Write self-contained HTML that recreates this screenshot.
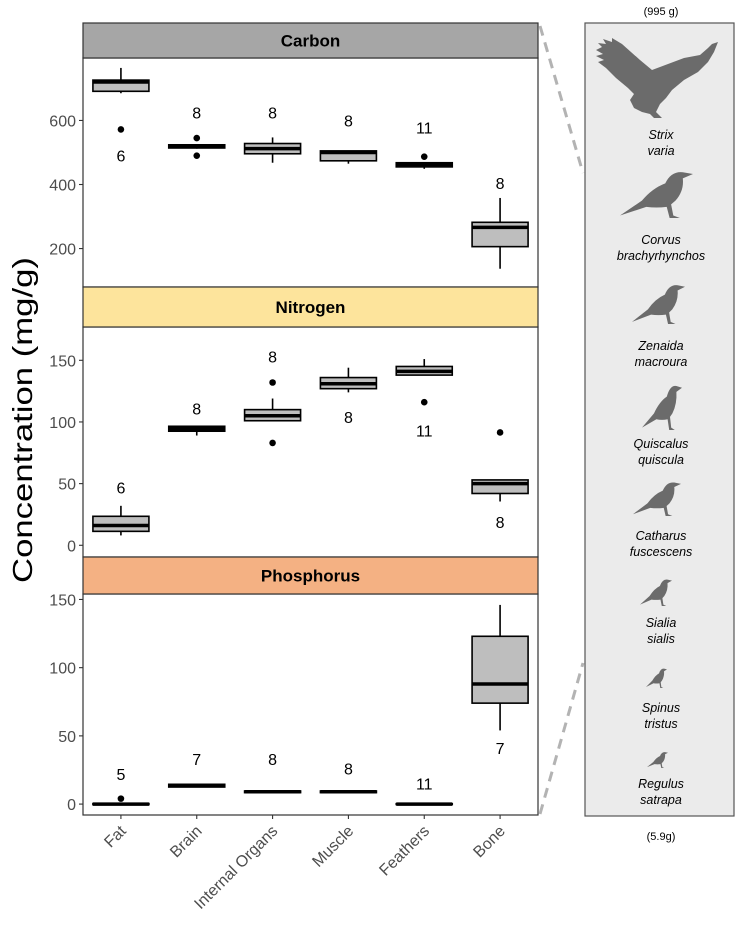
<!DOCTYPE html>
<html><head><meta charset="utf-8"><style>
html,body{margin:0;padding:0;background:#fff;}
svg{display:block;font-family:"Liberation Sans",Arial,sans-serif;}
</style></head><body>
<svg id="chart" width="736" height="928" viewBox="0 0 736 928" xmlns="http://www.w3.org/2000/svg">
<g id="plots"></g>
<text x="0" y="0" transform="translate(32,420) rotate(-90)" text-anchor="middle" font-size="28" fill="#000" textLength="326" lengthAdjust="spacingAndGlyphs">Concentration (mg/g)</text>
<g id="xaxis"></g>
<g>
<line x1="540" y1="26" x2="583" y2="173" stroke="#b3b3b3" stroke-width="3" stroke-dasharray="10,7"/>
<line x1="540" y1="814" x2="583" y2="663" stroke="#b3b3b3" stroke-width="3" stroke-dasharray="10,7"/>
<rect x="585" y="23" width="149" height="793" fill="#ebebeb" stroke="#555" stroke-width="1.2"/>
<text x="661" y="15" text-anchor="middle" font-size="11">(995 g)</text>
<text x="661" y="840" text-anchor="middle" font-size="11">(5.9g)</text>
<path fill="#6b6b6b" d="M596,50 L602,47 L598,43 L606,44 L603,39 L612,42 L612,38 L622,44 L640,60 L652,70 L668,64 L684,58 L700,55 L708,48 L712,44 L718,42 L714,52 L708,62 L698,72 L684,80 L672,90 L666,98 L660,104 L656,112 L662,118 L654,118 L650,114 L642,112 L634,108 L630,100 L634,94 L628,88 L616,78 L606,68 L598,62 L604,60 L596,56 L603,54 Z"/>
<g id="birds"></g>
<g id="birdlabels" font-size="12.5" font-style="italic" text-anchor="middle" fill="#000"></g>
</g>
</svg>
<script>
// ---- data ----
const categories = ["Fat","Brain","Internal Organs","Muscle","Feathers","Bone"];
const panelNames = ["Carbon","Nitrogen","Phosphorus"];
// [whiskerLow, q1, median, q3, whiskerHigh]
const carbonStats = [[685,691,720,726,764],[512,514,519,524,524],[468,496,512,528,547],[465,474,500,505,505],[449,455,462,468,470],[137,206,266,282,358]];
const carbonOutliers = [[572],[545,490],[],[],[487],[]];
const carbonN = ["6","8","8","8","11","8"];
const carbonNPos = [490,625,625,600,578,405];
const nitrogenStats = [[8,11.3,16,23.5,32],[89,92.5,94.5,96.5,97],[101,101,105,110,119],[124,127,131,136,144],[138,138,141,145,151],[35.5,42,50,53,53]];
const nitrogenOutliers = [[],[],[132,83],[],[116],[91.5]];
const nitrogenN = ["6","8","8","8","11","8"];
const nitrogenNPos = [47,111,153,104,93,19];
const phosStats = [[0,-0.4,0,0.4,0.6],[12.5,12.5,13.5,14.5,15],[8.4,8.4,9,9.6,9.8],[8.4,8.4,9,9.6,9.8],[-0.3,-0.3,0,0.3,0.3],[54,74,88,123,146]];
const phosOutliers = [[4],[],[],[],[],[]];
const phosN = ["5","7","8","8","11","7"];
const phosNPos = [22,33,33,26,15,41];
const carbonTicks = [200,400,600];
const nitrogenTicks = [0,50,100,150];
const phosTicks = [0,50,100,150];

const NS="http://www.w3.org/2000/svg";
function mk(tag,attrs,parent){const e=document.createElementNS(NS,tag);for(const k in attrs)e.setAttribute(k,attrs[k]);parent.appendChild(e);return e;}
const X0=83,X1=538;
const step=(X1-X0)/categories.length;
function xPos(i){return X0+step*(i+0.5);}
const boxW=56;
const panels=[
 {name:panelNames[0],color:"#a6a6a6",sTop:23,pTop:58,pBot:287,vTop:795,vBot:80,stats:carbonStats,out:carbonOutliers,n:carbonN,np:carbonNPos,ticks:carbonTicks},
 {name:panelNames[1],color:"#fde49c",sTop:287,pTop:327,pBot:557,vTop:177,vBot:-9.5,stats:nitrogenStats,out:nitrogenOutliers,n:nitrogenN,np:nitrogenNPos,ticks:nitrogenTicks},
 {name:panelNames[2],color:"#f4b183",sTop:557,pTop:594,pBot:815,vTop:154,vBot:-8,stats:phosStats,out:phosOutliers,n:phosN,np:phosNPos,ticks:phosTicks}
];
const plots=document.getElementById('plots');
panels.forEach((p,pi)=>{
  const key=p.name.toLowerCase();
  const y=v=>p.pBot-(v-p.vBot)/(p.vTop-p.vBot)*(p.pBot-p.pTop);
  const g=mk('g',{},plots);
  
  
  const bg=mk('rect',{x:X0,y:p.pTop,width:X1-X0,height:p.pBot-p.pTop,fill:'#fff',stroke:'#333','stroke-width':1.2},g);
  
  
  const st=mk('rect',{x:X0,y:p.sTop,width:X1-X0,height:p.pTop-p.sTop,fill:p.color,stroke:'#333','stroke-width':1.2},g);
  
  
  const stt=mk('text',{x:(X0+X1)/2,y:(p.sTop+p.pTop)/2+6,'text-anchor':'middle','font-size':17,'font-weight':'bold'},g);
  stt.textContent=p.name;
  
  
  p.ticks.forEach(t=>{
    const ty=y(t);
    const tl=mk('line',{x1:X0-4,x2:X0,y1:ty,y2:ty,stroke:'#333','stroke-width':1.1},g);
    
    
    const tt=mk('text',{x:X0-7,y:ty+6,'text-anchor':'end','font-size':16,fill:'#4d4d4d'},g);
    tt.textContent=t;
    
    
  });
  p.stats.forEach((s,i)=>{
    const cx=xPos(i);
    const bx=mk('g',{},g);
    
    
    mk('line',{x1:cx,x2:cx,y1:y(s[4]),y2:y(s[3]),stroke:'#000','stroke-width':1.6},bx);
    mk('line',{x1:cx,x2:cx,y1:y(s[1]),y2:y(s[0]),stroke:'#000','stroke-width':1.6},bx);
    const top=y(s[3]),bot=y(s[1]);
    mk('rect',{x:cx-boxW/2,y:top,width:boxW,height:Math.max(bot-top,0.5),fill:'#bebebe',stroke:'#000','stroke-width':1.6},bx);
    mk('line',{x1:cx-boxW/2,x2:cx+boxW/2,y1:y(s[2]),y2:y(s[2]),stroke:'#000','stroke-width':3.5},bx);
    p.out[i].forEach(o=>{
      const c=mk('circle',{cx:cx,cy:y(o),r:3.3,fill:'#000'},g);
      
      
    });
    const nt=mk('text',{x:cx,y:y(p.np[i])+6,'text-anchor':'middle','font-size':16,fill:'#000'},g);
    nt.textContent=p.n[i];
    
    
  });
});
const xa=document.getElementById('xaxis');
categories.forEach((c,i)=>{
  const cx=xPos(i);
  const tl=mk('line',{x1:cx,x2:cx,y1:815,y2:819,stroke:'#333','stroke-width':1.1},xa);
  
  
  const t=mk('text',{x:0,y:0,transform:`translate(${cx+6},${832}) rotate(-45)`,'text-anchor':'end','font-size':16,fill:'#4d4d4d'},xa);
  t.textContent=c;
  
  
});
// birds
const birdPath="M0,80 L30,56 Q44,36 62,28 Q70,8 86,10 L100,13 L86,20 Q88,40 76,56 L70,62 L73,80 L82,84 L68,84 L64,66 Q50,68 36,66 Z";
const birdBoxes=[["crow",620,166,73,52],["dove",632,280,53,44],["grackle",642,380,40,50],["thrush",633,478,48,38],["bluebird",640,576,32,30],["goldfinch",646,666,21,22],["kinglet",647,750,21,18]];
const bg=document.getElementById('birds');
birdBoxes.forEach(b=>{
  const pth=mk('path',{d:birdPath,fill:'#6b6b6b',transform:`translate(${b[1]},${b[2]}) scale(${b[3]/100},${b[4]/84})`},bg);
  
  
});
const names=[["Strix","varia",135],["Corvus","brachyrhynchos",240],["Zenaida","macroura",346],["Quiscalus","quiscula",444],["Catharus","fuscescens",536],["Sialia","sialis",623],["Spinus","tristus",708],["Regulus","satrapa",784]];
const bl=document.getElementById('birdlabels');
names.forEach(n=>{
  const t=mk('text',{x:661,y:n[2]+4},bl);
  t.textContent=n[0];
  
  
  const t2=mk('text',{x:661,y:n[2]+20},bl);
  t2.textContent=n[1];
  
  
});
</script>
</body></html>
